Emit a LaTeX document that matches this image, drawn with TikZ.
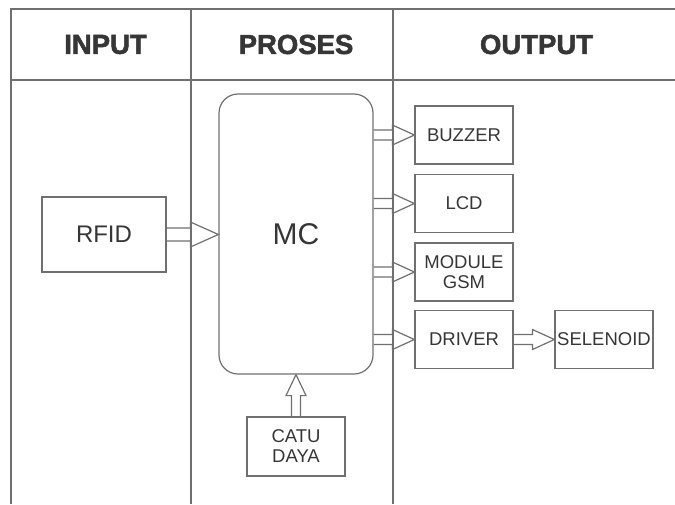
\documentclass[tikz,border=0pt]{standalone}
\usepackage{fontspec}
\setmainfont{Liberation Sans}
\newfontfamily\headfont[FakeBold=2]{Liberation Sans Bold}
\usetikzlibrary{calc}
\definecolor{linegray}{HTML}{707070}
\definecolor{textgray}{HTML}{363636}

% hollow block arrow running horizontally from #1 to #2
% #3 shaft half-height, #4 head half-height, #5 head length
\newcommand\hblock[5]{%
  \draw[blockline] let \p1=(#1), \p2=(#2) in
    (\x1,\y1+#3) -- (\x2-#5,\y1+#3) -- (\x2-#5,\y1+#4) -- (\x2,\y1)
    -- (\x2-#5,\y1-#4) -- (\x2-#5,\y1-#3) -- (\x1,\y1-#3);}
% hollow block arrow running upwards from #1 to #2
\newcommand\vblock[5]{%
  \draw[blockline] let \p1=(#1), \p2=(#2) in
    (\x1-#3,\y1) -- (\x1-#3,\y2-#5) -- (\x1-#4,\y2-#5) -- (\x1,\y2)
    -- (\x1+#4,\y2-#5) -- (\x1+#3,\y2-#5) -- (\x1+#3,\y1);}

\begin{document}
\begin{tikzpicture}[x=1pt,y=-1pt,
  gridline/.style={draw=linegray,line width=1.4pt},
  blockline/.style={draw=linegray,line width=1.2pt,line join=miter},
  head/.style={text=textgray,font=\headfont\fontsize{27.5}{30}\selectfont,inner sep=0pt},
  unit/.style={draw=linegray,line width=1.2pt,text=textgray,inner sep=0pt,
    align=center,font=\fontsize{18.5}{20}\selectfont},
  outbox/.style={unit,minimum width=98pt,minimum height=58pt}]
\useasboundingbox (0,0) rectangle (675,504);

% table frame
\draw[gridline] (675,9) -- (11,9) -- (11,504);
\draw[gridline] (11,80) -- (675,80);
\draw[gridline] (191,9) -- (191,504);
\draw[gridline] (393,9) -- (393,504);

% column headings
\node[head] (hin)  at (105.5,44.5) {INPUT};
\node[head] (hpro) at (296,44.5) {PROSES};
\node[head] (hout) at (536.5,44.5) {OUTPUT};

% blocks
\node[unit,minimum width=124pt,minimum height=75pt,font=\fontsize{24}{28}\selectfont]
  (rfid) at (104,234.5) {RFID};
\node[unit,minimum width=154pt,minimum height=280pt,rounded corners=19pt,
  font=\fontsize{30}{34}\selectfont] (mc) at (296,234) {MC};
\node[outbox] (buzzer)   at (464,135)   {BUZZER};
\node[outbox] (lcd)      at (464,203.5) {LCD};
\node[outbox] (gsm)      at (464,272)   {MODULE\\GSM};
\node[outbox] (driver)   at (464,339.5) {DRIVER};
\node[outbox] (selenoid) at (604,339.5) {SELENOID};
\node[unit,minimum width=98pt,minimum height=59pt] (catu) at (296,446.5) {CATU\\DAYA};

% connectors
\hblock{rfid.east}{mc.west}{6.5pt}{12.5pt}{28pt}
\hblock{mc.east |- buzzer.west}{buzzer.west}{5pt}{10pt}{22pt}
\hblock{mc.east |- lcd.west}{lcd.west}{5pt}{10pt}{22pt}
\hblock{mc.east |- gsm.west}{gsm.west}{5pt}{10pt}{22pt}
\hblock{mc.east |- driver.west}{driver.west}{5pt}{10pt}{22pt}
\hblock{driver.east}{selenoid.west}{5pt}{10pt}{22pt}
\vblock{catu.north}{catu.north |- mc.south}{4.5pt}{10pt}{21pt}
\end{tikzpicture}
\end{document}
